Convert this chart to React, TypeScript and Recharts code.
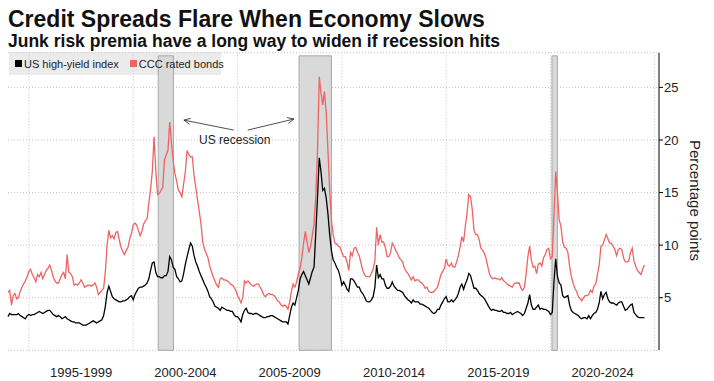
import {
  LineChart,
  Line,
  XAxis,
  YAxis,
  CartesianGrid,
  ReferenceArea,
  ReferenceLine,
  ReferenceDot,
} from "recharts";

const START_YEAR = 1994;

// monthly spreads from Jan 1994, percentage points
const highYield = [
  3.2, 3.5, 3.4, 3.4, 3.4, 3.4, 3.5, 3.3, 3.2, 3.1, 3.0, 3.3, // 1994
  3.4, 3.3, 3.4, 3.4, 3.5, 3.6, 3.7, 3.6, 3.5, 3.6, 3.7, 3.8, // 1995
  3.8, 3.6, 3.4, 3.3, 3.2, 3.3, 3.2, 3.0, 3.1, 3.2, 3.0, 2.9, // 1996
  2.8, 2.7, 2.7, 2.6, 2.6, 2.6, 2.5, 2.4, 2.4, 2.4, 2.5, 2.6, // 1997
  2.7, 2.8, 2.7, 2.6, 2.7, 2.8, 2.9, 3.3, 4.2, 5.5, 6.1, 5.6, // 1998
  5.1, 4.9, 4.8, 4.7, 4.6, 4.6, 4.7, 4.7, 4.8, 4.9, 5.1, 5.2, // 1999
  4.8, 5.3, 5.6, 5.9, 6.0, 6.0, 6.1, 6.2, 6.4, 6.8, 7.6, 8.3, // 2000
  8.4, 7.4, 7.0, 7.0, 6.9, 6.9, 7.1, 7.1, 7.5, 8.9, 8.6, 7.9, // 2001
  7.7, 7.0, 6.8, 6.5, 6.6, 7.3, 8.2, 8.9, 9.6, 10.2, 9.9, 9.0, // 2002
  8.4, 8.0, 7.5, 7.1, 6.7, 6.3, 6.0, 5.6, 5.1, 4.9, 4.6, 4.2, // 2003
  4.1, 4.0, 3.8, 4.1, 4.0, 3.9, 3.8, 3.8, 3.7, 3.7, 3.4, 3.2, // 2004
  3.2, 3.0, 2.7, 3.4, 3.8, 4.0, 3.6, 3.5, 3.5, 3.4, 3.5, 3.5, // 2005
  3.4, 3.3, 3.2, 3.1, 3.1, 3.2, 3.2, 3.3, 3.3, 3.2, 3.1, 3.0, // 2006
  2.9, 2.8, 2.7, 2.7, 2.7, 2.5, 3.3, 4.1, 4.5, 4.3, 5.0, 5.7, // 2007
  6.8, 7.2, 7.5, 7.1, 6.7, 6.3, 6.9, 7.5, 7.9, 11.1, 14.5, 18.3, // 2008
  17.0, 15.2, 15.4, 14.5, 13.0, 11.0, 9.5, 8.6, 8.3, 7.9, 7.6, 7.0, // 2009
  6.2, 6.5, 6.2, 5.8, 5.6, 6.8, 6.8, 6.6, 6.3, 6.0, 6.0, 5.6, // 2010
  5.4, 5.1, 4.7, 4.6, 4.6, 4.8, 5.1, 6.0, 8.1, 6.9, 7.2, 6.8, // 2011
  6.8, 6.2, 5.9, 5.9, 6.1, 6.5, 6.1, 5.9, 5.7, 5.7, 5.6, 5.5, // 2012
  5.2, 5.0, 4.8, 4.7, 4.5, 4.8, 4.6, 4.6, 4.6, 4.4, 4.4, 4.3, // 2013
  4.2, 4.1, 4.0, 3.8, 3.6, 3.5, 3.6, 3.9, 3.9, 4.3, 4.6, 4.9, // 2014
  5.1, 4.6, 4.6, 4.8, 4.6, 4.8, 5.0, 5.4, 6.0, 6.3, 5.8, 6.3, // 2015
  6.7, 7.3, 7.1, 6.5, 5.9, 5.9, 5.7, 5.4, 5.2, 5.1, 4.9, 4.6, // 2016
  4.3, 4.0, 3.8, 3.9, 3.8, 3.8, 3.7, 3.7, 3.8, 3.6, 3.6, 3.5, // 2017
  3.5, 3.6, 3.4, 3.5, 3.6, 3.7, 3.6, 3.5, 3.3, 3.5, 4.0, 4.5, // 2018
  5.3, 4.3, 3.9, 3.9, 4.1, 4.3, 3.9, 4.0, 3.9, 3.9, 3.8, 3.7, // 2019
  3.4, 3.6, 6.5, 8.7, 7.0, 6.4, 6.2, 5.2, 5.0, 5.1, 5.2, 4.3, // 2020
  3.8, 3.6, 3.5, 3.4, 3.3, 3.1, 3.0, 3.1, 3.1, 3.0, 3.3, 3.0, // 2021
  3.3, 3.5, 3.6, 3.9, 4.5, 5.6, 4.9, 5.3, 5.5, 4.9, 4.6, 4.5, // 2022
  4.5, 4.4, 4.3, 4.5, 4.6, 4.6, 4.2, 3.8, 3.9, 4.1, 4.3, 4.4, // 2023
  3.6, 3.4, 3.2, 3.1, 3.1, 3.1, 3.1, // 2024
];

const cccRated = [
  5.5, 5.7, 4.3, 5.2, 5.4, 4.9, 5.0, 5.6, 6.0, 6.3, 6.6, 7.0, // 1994
  7.5, 7.7, 7.2, 6.9, 6.5, 7.2, 7.0, 7.4, 6.8, 7.2, 7.6, 7.8, // 1995
  8.1, 7.6, 7.0, 6.6, 6.4, 6.4, 6.8, 7.2, 7.4, 6.8, 9.1, 7.4, // 1996
  7.3, 7.0, 6.2, 6.3, 6.2, 6.4, 6.7, 6.4, 6.0, 6.1, 6.2, 6.2, // 1997
  6.1, 6.2, 6.4, 6.0, 5.3, 5.5, 5.7, 5.9, 7.5, 10.0, 11.4, 10.7, // 1998
  10.9, 10.6, 11.2, 11.3, 10.5, 9.8, 9.4, 9.1, 9.5, 9.8, 10.6, 11.1, // 1999
  11.9, 12.1, 11.9, 11.4, 10.9, 11.3, 12.0, 12.3, 12.5, 14.0, 15.3, 17.0, // 2000
  20.3, 17.1, 14.8, 14.9, 15.2, 15.5, 18.1, 18.6, 19.0, 21.7, 19.8, 18.0, // 2001
  16.8, 16.1, 15.2, 15.0, 14.6, 15.8, 17.0, 19.0, 18.6, 18.4, 18.4, 16.6, // 2002
  15.5, 14.3, 13.2, 12.0, 10.3, 9.6, 9.2, 8.8, 8.0, 7.5, 7.0, 6.6, // 2003
  6.2, 6.0, 6.8, 6.9, 6.7, 6.7, 6.6, 6.5, 6.3, 6.2, 6.0, 5.7, // 2004
  5.2, 4.9, 4.5, 5.0, 6.6, 6.4, 6.6, 6.4, 6.2, 6.1, 6.2, 6.3, // 2005
  6.3, 6.0, 5.7, 5.3, 5.1, 5.3, 5.4, 5.3, 5.3, 5.2, 5.0, 4.7, // 2006
  4.6, 4.3, 4.2, 4.3, 4.2, 3.9, 4.6, 5.6, 6.3, 6.0, 6.5, 7.3, // 2007
  7.8, 8.8, 10.2, 11.3, 10.3, 9.3, 9.9, 10.9, 12.0, 14.5, 19.0, 26.0, // 2008
  24.5, 23.3, 24.6, 22.6, 19.0, 15.3, 12.4, 11.0, 10.2, 10.1, 9.9, 9.8, // 2009
  9.3, 8.9, 8.9, 8.4, 7.6, 9.3, 9.0, 9.7, 9.8, 9.3, 9.0, 8.3, // 2010
  7.6, 7.2, 7.0, 7.0, 7.0, 7.3, 7.7, 8.5, 11.7, 10.0, 11.0, 10.3, // 2011
  10.3, 9.8, 8.9, 8.9, 9.3, 10.2, 9.9, 9.5, 9.2, 8.8, 8.6, 8.4, // 2012
  7.8, 7.5, 7.3, 7.0, 6.7, 7.0, 6.6, 6.7, 6.7, 6.5, 6.4, 6.2, // 2013
  5.9, 6.0, 5.6, 5.5, 5.5, 5.6, 5.8, 6.0, 6.6, 7.2, 7.5, 7.8, // 2014
  8.7, 8.1, 8.0, 8.3, 7.9, 7.9, 8.4, 9.0, 9.8, 10.8, 10.3, 11.8, // 2015
  13.0, 14.8, 14.6, 13.4, 11.4, 11.0, 11.0, 10.5, 9.7, 9.5, 9.2, 8.7, // 2016
  7.9, 7.2, 6.9, 6.8, 6.9, 6.8, 6.8, 6.7, 6.9, 6.6, 6.5, 6.3, // 2017
  6.2, 6.1, 6.0, 6.3, 6.4, 6.4, 6.4, 5.9, 5.7, 6.0, 7.3, 8.9, // 2018
  9.9, 8.6, 7.9, 8.0, 7.3, 8.2, 8.3, 8.0, 8.8, 9.1, 9.6, 9.7, // 2019
  8.7, 8.9, 12.7, 17.0, 15.0, 12.4, 11.8, 10.3, 9.8, 9.7, 9.3, 8.0, // 2020
  7.0, 6.4, 5.9, 5.6, 5.1, 4.9, 4.7, 5.0, 5.2, 5.2, 5.3, 5.7, // 2021
  5.5, 6.1, 6.3, 7.2, 8.1, 9.9, 10.0, 10.5, 11.0, 10.6, 10.2, 10.2, // 2022
  9.9, 9.6, 9.0, 9.6, 9.7, 9.6, 8.8, 8.4, 8.4, 8.5, 9.3, 9.7, // 2023
  8.5, 8.0, 7.6, 7.4, 7.2, 7.7, 8.1, // 2024
];

// NBER recessions as decimal years [start, end]
const recessions = [
  [2001.2, 2001.93],
  [2007.95, 2009.5],
  [2020.07, 2020.33],
];

const periodLabels = ["1995-1999", "2000-2004", "2005-2009", "2010-2014", "2015-2019", "2020-2024"];
const periodMids = [1997.5, 2002.5, 2007.5, 2012.5, 2017.5, 2022.5];
const periodEdges = [1995, 2000, 2005, 2010, 2015, 2020, 2025];
const yTicks = [5, 10, 15, 20, 25];

// annotation arrows: [fromYear, fromValue, toYear, toValue]
const recessionArrows = [
  [2004.82, 20.94, 2002.43, 21.89],
  [2005.49, 20.94, 2007.7, 21.99],
];

const data = highYield.map((v, i) => ({
  t: START_YEAR + i / 12,
  hy: v,
  ccc: cccRated[i],
}));

function Arrow(props: any) {
  const { x1, y1, x2, y2 } = props;
  const a = Math.atan2(y2 - y1, x2 - x1);
  const len = 7;
  const spread = 0.45;
  const ax = x2 - len * Math.cos(a - spread);
  const ay = y2 - len * Math.sin(a - spread);
  const bx = x2 - len * Math.cos(a + spread);
  const by = y2 - len * Math.sin(a + spread);
  return (
    <g stroke="#222" strokeWidth={0.8} fill="none">
      <line x1={x1} y1={y1} x2={x2} y2={y2} />
      <polyline points={`${ax},${ay} ${x2},${y2} ${bx},${by}`} />
    </g>
  );
}

export default function App() {
  const font = "'Liberation Sans', Arial, sans-serif";
  return (
    <div
      style={{
        position: "absolute",
        left: 0,
        top: 0,
        width: 714,
        height: 381,
        background: "#fff",
        fontFamily: font,
        color: "#111",
        overflow: "hidden",
      }}
    >
      <div style={{ position: "absolute", left: 9, top: 52, width: 212, height: 23, background: "#ebebeb" }} />

      <div style={{ position: "absolute", left: 0, top: 0 }}>
        <LineChart
          width={714}
          height={381}
          data={data}
          margin={{ top: 52.7, right: 15, bottom: 0.7, left: 8 }}
        >
          <CartesianGrid vertical={false} stroke="#c4c4c4" strokeDasharray="1 2" />
          {periodEdges.map((yr) => (
            <ReferenceLine key={yr} x={yr} stroke="#c4c4c4" strokeDasharray="1 2" />
          ))}
          {recessions.map(([a, b]) => (
            <ReferenceArea
              key={a}
              x1={a}
              x2={b}
              y1={0}
              y2={28}
              fill="#d9d9d9"
              fillOpacity={1}
              stroke="#a8a8a8"
              strokeWidth={1}
            />
          ))}
          <XAxis
            type="number"
            dataKey="t"
            domain={[1994, 2025.2]}
            ticks={periodMids}
            tickFormatter={(v: number) => periodLabels[periodMids.indexOf(v)]}
            axisLine={false}
            tickLine={false}
            tickMargin={11}
            height={30}
            tick={{ fill: "#222", fontSize: 13 }}
          />
          <YAxis
            orientation="right"
            domain={[0, 28.3]}
            ticks={yTicks}
            width={40}
            axisLine={{ stroke: "#000" }}
            tickLine={{ stroke: "#000" }}
            tickSize={4}
            tickMargin={1}
            tick={{ fill: "#222", fontSize: 13 }}
          />
          <Line
            type="linear"
            dataKey="ccc"
            stroke="#ee6363"
            strokeWidth={1.3}
            dot={false}
            isAnimationActive={false}
          />
          <Line
            type="linear"
            dataKey="hy"
            stroke="#000"
            strokeWidth={1.3}
            dot={false}
            isAnimationActive={false}
          />
          {recessionArrows.map(([x1, y1, x2, y2]) => (
            <ReferenceLine
              key={x2}
              segment={[
                { x: x1, y: y1 },
                { x: x2, y: y2 },
              ]}
              shape={Arrow}
            />
          ))}
          <ReferenceDot
            x={2004.87}
            y={20}
            r={1}
            fill="none"
            stroke="none"
            label={{ value: "US recession", position: "center", fontSize: 12, fill: "#222" }}
          />
        </LineChart>
      </div>

      <div
        style={{
          position: "absolute",
          left: 9,
          top: 52,
          height: 23,
          display: "flex",
          alignItems: "center",
          fontSize: 11,
          color: "#222",
          whiteSpace: "nowrap",
        }}
      >
        <span style={{ width: 7, height: 7, background: "#000", marginLeft: 6, marginRight: 2 }} />
        <span>US high-yield index</span>
        <span style={{ width: 7, height: 7, background: "#ee6363", marginLeft: 11, marginRight: 2 }} />
        <span>CCC rated bonds</span>
      </div>

      <div
        style={{
          position: "absolute",
          left: 8,
          top: 8,
          fontSize: 23,
          lineHeight: "22px",
          fontWeight: 700,
          whiteSpace: "nowrap",
        }}
      >
        Credit Spreads Flare When Economy Slows
      </div>
      <div
        style={{
          position: "absolute",
          left: 8,
          top: 33.3,
          fontSize: 17.5,
          lineHeight: "17px",
          fontWeight: 700,
          whiteSpace: "nowrap",
        }}
      >
        Junk risk premia have a long way to widen if recession hits
      </div>
      <div
        style={{
          position: "absolute",
          left: 688,
          top: 140,
          writingMode: "vertical-rl",
          fontSize: 15,
          lineHeight: "15px",
          color: "#222",
          whiteSpace: "nowrap",
        }}
      >
        Percentage points
      </div>
    </div>
  );
}
